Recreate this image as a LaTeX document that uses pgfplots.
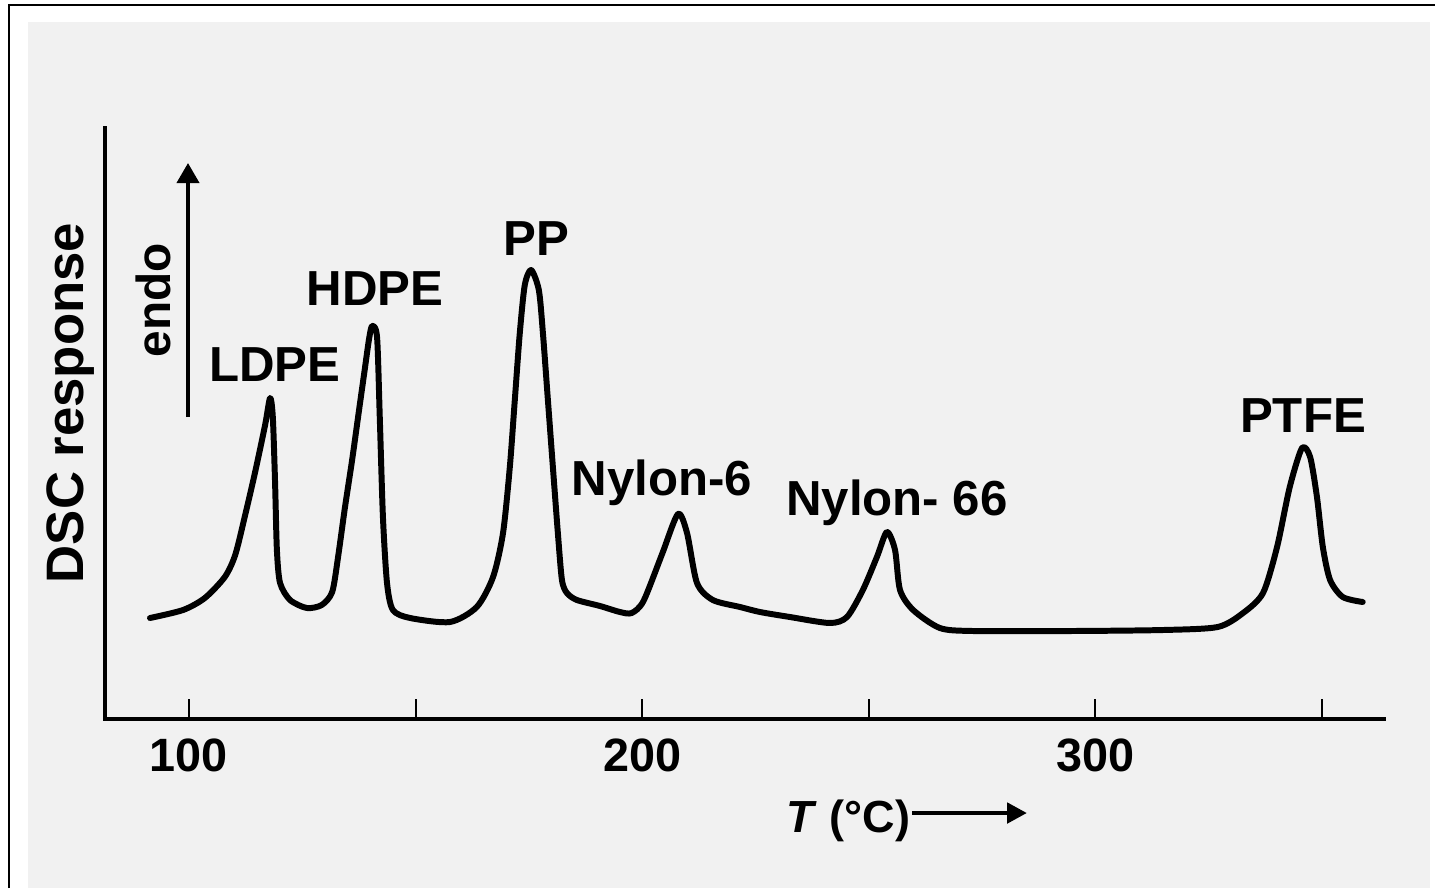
\documentclass[border=0pt]{standalone}
\usepackage{pgfplots}
\pgfplotsset{compat=1.18}
\usepackage{fontspec}
\setmainfont{Liberation Sans}
\usetikzlibrary{arrows.meta}
\definecolor{paper}{RGB}{241,241,241}

% DSC trace: temperature (deg C) against heat-flow response (arbitrary units)
\pgfplotstableread{
T      r
91.4   101
98.7   109
103.5  121
107.9  142
110.2  164
112.4  204
114.6  247
116.8  294
117.9  321
118.5  302
119.0  236
119.4  169
120.1  136
122.3  119
126.0  111
129.3  114
131.6  127
132.9  162
134.4  211
136.0  259
137.5  308
138.8  350
139.7  379
140.4  393
141.5  382
142.1  302
142.8  202
143.7  136
145.0  109
148.8  101
157.6  97
163.5  112
167.1  142
169.3  186
170.8  252
171.9  319
173.0  386
174.1  434
175.5  449
177.2  429
178.1  386
179.2  319
180.3  252
181.4  186
182.3  139
183.4  126
185.6  119
190.7  113
195.1  107
197.7  106
200.3  118
204.4  165
207.9  205
209.9  186
212.1  136
215.6  119
221.6  112
226.0  107
232.6  102
241.4  96
245.2  102
248.7  129
251.8  162
254.0  187
255.8  169
256.9  129
259.8  109
265.7  91
273.0  88
295.0  88
315.0  89
327.0  92
332.6  106
337.0  126
340.1  172
342.9  232
345.6  271
347.4  262
348.9  222
350.2  172
351.8  139
354.6  122
359.0  117
}\dsc

\newcommand\lbl{\bfseries\fontsize{14}{16}\selectfont}

\begin{document}
\begin{tikzpicture}
\path[use as bounding box] (0,0) rectangle (143.5mm,88.8mm);

% page background and frame
\begin{scope}[x=0.1mm,y=-0.1mm,yshift=88.8mm]
  \fill[white] (0,0) rectangle (1435,888);
  \fill[paper] (28,22) rectangle (1430,888);
  \draw[line width=0.6pt] (9,888) -- (9,5) -- (1435,5);
\end{scope}

\begin{axis}[
  at={(10.5mm,16.9mm)}, anchor=south west,
  scale only axis, width=127.9mm, height=59.1mm,
  xmin=81.47, xmax=363.7, ymin=0, ymax=591,
  axis lines=left,
  axis line style={-, line width=1.4pt, line cap=rect},
  xtick={100,150,200,250,300,350},
  xticklabels={100,,200,,300,},
  ytick=\empty,
  tick align=inside,
  major tick length=2mm,
  tick style={black, line width=0.6pt},
  xticklabel style={anchor=base, yshift=-5.2mm, inner sep=0pt,
    font=\bfseries\fontsize{13.3}{15}\selectfont},
  clip=false,
]
\addplot[black, line width=1.7pt, smooth, tension=0.45,
  line join=round, line cap=round] table[x=T, y=r] {\dsc};
\end{axis}

% labels and arrows
\begin{scope}[x=0.1mm,y=-0.1mm,yshift=88.8mm]
  \node[rotate=90, anchor=base, inner sep=0pt,
    font=\bfseries\fontsize{15}{17}\selectfont] at (83,403) {DSC response};
  \node[rotate=90, anchor=base, inner sep=0pt,
    font=\bfseries\fontsize{13.6}{15}\selectfont] at (170,300) {endo};
  \draw[line width=1.1pt, -{Triangle[length=2mm, width=2.2mm]}]
    (188,417) -- (188,163);

  \node[anchor=base, inner sep=0pt, font=\lbl] at (275,381) {LDPE};
  \node[anchor=base, inner sep=0pt, font=\lbl] at (375,305) {HDPE};
  \node[anchor=base, inner sep=0pt, font=\lbl] at (536,255) {PP};
  \node[anchor=base, inner sep=0pt, font=\lbl] at (662,495) {Nylon-6};
  \node[anchor=base, inner sep=0pt, font=\lbl] at (897,515) {Nylon- 66};
  \node[anchor=base, inner sep=0pt, font=\lbl] at (1303,432) {PTFE};

  \node[anchor=base west, inner sep=0pt,
    font=\bfseries\fontsize{12.8}{15}\selectfont] at (786,832) {\textit{T} (°C)};
  \draw[line width=1.4pt, -{Triangle[length=2mm, width=2mm]}]
    (912,813) -- (1027,813);
\end{scope}
\end{tikzpicture}
\end{document}
